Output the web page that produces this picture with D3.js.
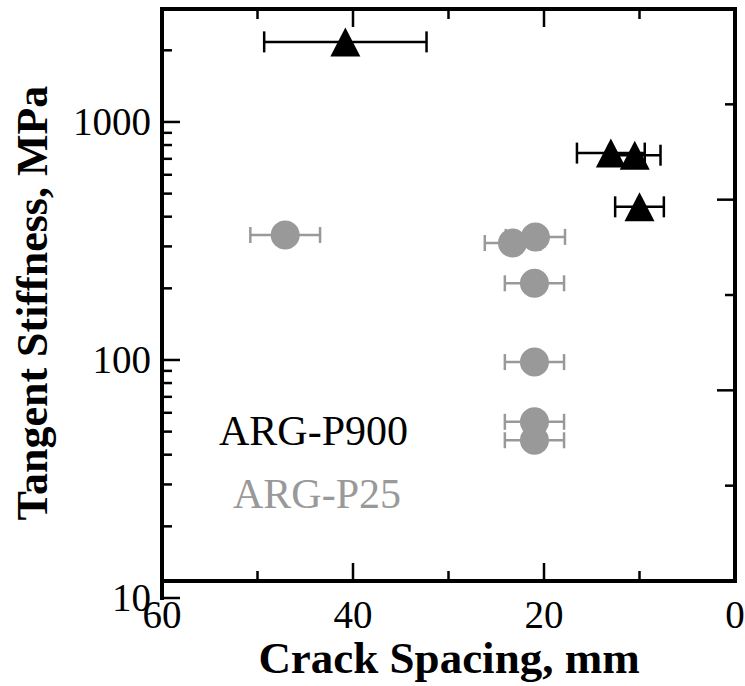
<!DOCTYPE html>
<html>
<head>
<meta charset="utf-8">
<script src="https://cdn.jsdelivr.net/npm/d3@7"></script>
<style>
  html, body { margin: 0; padding: 0; background: #fff; }
  svg { display: block; }
</style>
</head>
<body>
<svg id="chart" width="745" height="686"></svg>
<script>
// ARG-P900 specimens: crack spacing (mm), its spread, tangent stiffness (MPa)
const p900Spacing = [40.8, 13.0, 10.5, 10.0];
const p900SpacingErr = [8.5, 3.55, 2.7, 2.55];
const p900Stiffness = [2170, 740, 725, 440];

// ARG-P25 specimens
const p25Spacing = [47.1, 23.3, 20.9, 21.0, 21.0, 21.0, 21.0];
const p25SpacingErr = [3.65, 2.9, 3.1, 3.1, 3.1, 3.1, 3.1];
const p25Stiffness = [335, 310, 329, 210, 98, 55, 46];

const xMajorTicks = [60, 40, 20, 0];
const xMinorTicks = [50, 30, 10];
const yMajorTicks = [10, 100, 1000];
const yMinorTicks = [20, 30, 40, 50, 60, 70, 80, 90, 200, 300, 400, 500, 600, 700, 800, 900, 2000];
const rightMajorTicks = [2, 4];
const rightMinorTicks = [1, 3, 5];

const seriesNames = ["ARG-P900", "ARG-P25"];
const seriesColors = ["#000000", "#999999"];

const serif = "'Liberation Serif', 'Times New Roman', Times, 'DejaVu Serif', serif";

const svg = d3.select("#chart");

const frame = { left: 162, right: 735, top: 9, bottom: 581 };

const x = d3.scaleLinear().domain([60, 0]).range([frame.left, frame.right]);
const y = d3.scaleLog().domain([10, 3000]).range([598, 8.4]);
const yRight = d3.scaleLinear().domain([0, 6]).range([frame.bottom, frame.top]);

const majorLen = 18, minorLen = 10;

// ---- ticks ----
const tickG = svg.append("g").attr("stroke", "#000").attr("stroke-width", 2.5);

// bottom & top
[[xMajorTicks.filter(d => d !== 60 && d !== 0), majorLen], [xMinorTicks, minorLen]].forEach(([ticks, len]) => {
  tickG.selectAll(null).data(ticks).enter().append("line")
    .attr("x1", d => x(d)).attr("x2", d => x(d))
    .attr("y1", frame.bottom).attr("y2", frame.bottom - len);
  tickG.selectAll(null).data(ticks).enter().append("line")
    .attr("x1", d => x(d)).attr("x2", d => x(d))
    .attr("y1", frame.top).attr("y2", frame.top + len);
});

// left (log)
[[yMajorTicks, majorLen], [yMinorTicks, minorLen]].forEach(([ticks, len]) => {
  tickG.selectAll(null).data(ticks).enter().append("line")
    .attr("x1", frame.left).attr("x2", frame.left + len)
    .attr("y1", d => y(d)).attr("y2", d => y(d));
});

// right (linear)
[[rightMajorTicks, majorLen], [rightMinorTicks, minorLen]].forEach(([ticks, len]) => {
  tickG.selectAll(null).data(ticks).enter().append("line")
    .attr("x1", frame.right).attr("x2", frame.right - len)
    .attr("y1", d => yRight(d)).attr("y2", d => yRight(d));
});

// ---- frame ----
svg.append("path")
  .attr("d", `M${frame.left},${y(10)} L${frame.left},${frame.top} L${frame.right},${frame.top} L${frame.right},${frame.bottom} L${frame.left},${frame.bottom}`)
  .attr("fill", "none").attr("stroke", "#000").attr("stroke-width", 4)
  .attr("stroke-linejoin", "miter").attr("stroke-linecap", "square");

// ---- tick labels ----
svg.append("g").selectAll("text").data(yMajorTicks).enter().append("text")
  .attr("x", 151).attr("y", d => y(d) + 13)
  .attr("text-anchor", "end").attr("font-size", 39).attr("font-family", serif)
  .text(d => d);

svg.append("g").selectAll("text").data(xMajorTicks).enter().append("text")
  .attr("x", d => x(d)).attr("y", 628)
  .attr("text-anchor", "middle").attr("font-size", 39).attr("font-family", serif)
  .text(d => d);

// ---- axis titles ----
svg.append("text")
  .attr("x", 449).attr("y", 673)
  .attr("text-anchor", "middle").attr("font-size", 45).attr("font-weight", "bold")
  .attr("font-family", serif)
  .text("Crack Spacing, mm");

svg.append("text")
  .attr("transform", `translate(47,${(frame.top + frame.bottom) / 2 + 8}) rotate(-90)`)
  .attr("text-anchor", "middle").attr("font-size", 44).attr("font-weight", "bold")
  .attr("font-family", serif)
  .text("Tangent Stiffness, MPa");

// ---- data ----
const p900 = p900Spacing.map((s, i) => ({ s, e: p900SpacingErr[i], v: p900Stiffness[i] }));
const p25 = p25Spacing.map((s, i) => ({ s, e: p25SpacingErr[i], v: p25Stiffness[i] }));

function errorBars(g, data, color, capH) {
  const eg = g.append("g").attr("stroke", color).attr("stroke-width", 2.5).attr("fill", "none");
  eg.selectAll(".bar").data(data).enter().append("line")
    .attr("x1", d => x(d.s + d.e)).attr("x2", d => x(d.s - d.e))
    .attr("y1", d => y(d.v)).attr("y2", d => y(d.v));
  eg.selectAll(".capL").data(data).enter().append("line")
    .attr("x1", d => x(d.s + d.e)).attr("x2", d => x(d.s + d.e))
    .attr("y1", d => y(d.v) - capH / 2).attr("y2", d => y(d.v) + capH / 2);
  eg.selectAll(".capR").data(data).enter().append("line")
    .attr("x1", d => x(d.s - d.e)).attr("x2", d => x(d.s - d.e))
    .attr("y1", d => y(d.v) - capH / 2).attr("y2", d => y(d.v) + capH / 2);
}

const dataG = svg.append("g");
errorBars(dataG, p25, seriesColors[1], 16);
errorBars(dataG, p900, seriesColors[0], 21);

dataG.append("g").selectAll("circle").data(p25).enter().append("circle")
  .attr("cx", d => x(d.s)).attr("cy", d => y(d.v)).attr("r", 14.5)
  .attr("fill", seriesColors[1]);

const triW = 30, triH = 29;
dataG.append("g").selectAll("path").data(p900).enter().append("path")
  .attr("d", d => {
    const cx = x(d.s), cy = y(d.v);
    return `M${cx},${cy - triH / 2} L${cx + triW / 2},${cy + triH / 2} L${cx - triW / 2},${cy + triH / 2} Z`;
  })
  .attr("fill", seriesColors[0]);

// ---- legend ----
const legend = svg.append("g").attr("font-family", serif).attr("font-size", 42);
legend.append("text").attr("x", 219).attr("y", 445)
  .attr("fill", seriesColors[0]).text(seriesNames[0]);
legend.append("text").attr("x", 233).attr("y", 508)
  .attr("fill", seriesColors[1]).text(seriesNames[1]);
</script>
</body>
</html>
